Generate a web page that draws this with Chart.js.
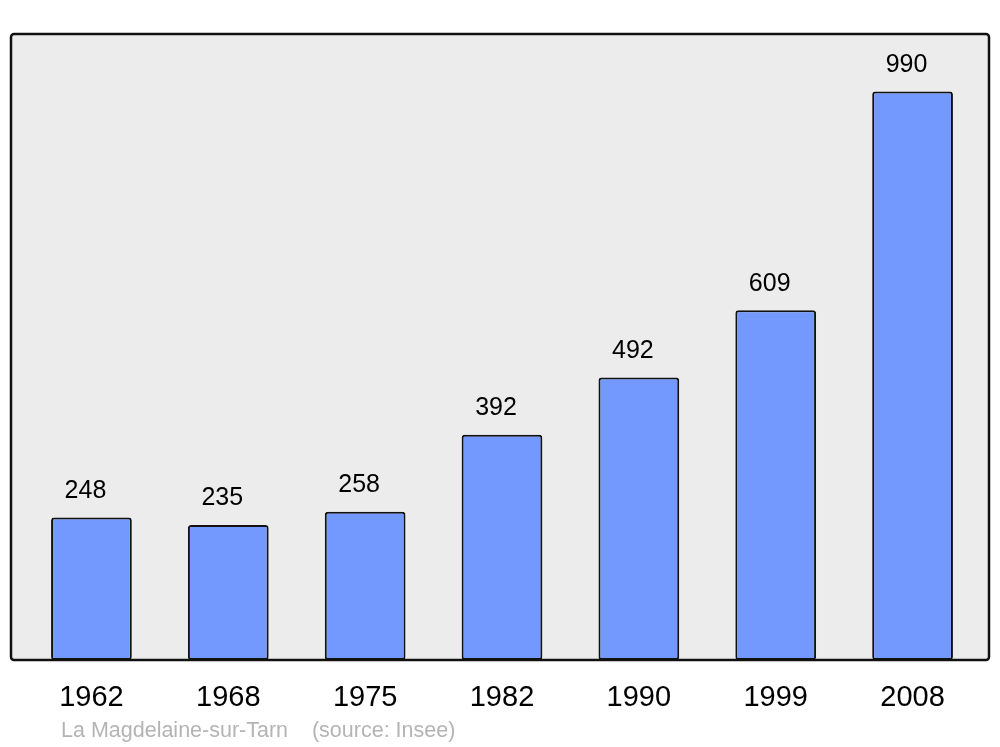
<!DOCTYPE html>
<html>
<head>
<meta charset="utf-8">
<script src="https://cdn.jsdelivr.net/npm/chart.js@4/dist/chart.umd.min.js"></script>
<style>
  html, body { margin: 0; padding: 0; background: #ffffff; }
  #wrap { position: relative; width: 1000px; height: 747px; }
  #src { position: absolute; left: 61px; top: 718px; font-family: "Liberation Sans", Arial, sans-serif; font-size: 21.5px; color: #b4b4b4; white-space: pre; }
</style>
</head>
<body>
<div id="wrap">
  <canvas id="c" width="1000" height="747"></canvas>
  <div id="src">La Magdelaine-sur-Tarn    (source: Insee)</div>
</div>
<script>
const years = ["1962", "1968", "1975", "1982", "1990", "1999", "2008"];
const population = [248, 235, 258, 392, 492, 609, 990];
const yMax = 1090;

const framePlugin = {
  id: 'frame',
  beforeDraw(chart) {
    const { ctx, chartArea } = chart;
    const l = chartArea.left - 12, r = chartArea.right + 8;
    const t = chartArea.top, b = chartArea.bottom;
    ctx.save();
    ctx.beginPath();
    ctx.roundRect(l, t, r - l, b - t, 3);
    ctx.fillStyle = '#ececec';
    ctx.fill();
    ctx.restore();
  },
  afterDatasetsDraw(chart) {
    const { ctx, chartArea } = chart;
    const l = chartArea.left - 12, r = chartArea.right + 8;
    const t = chartArea.top, b = chartArea.bottom;
    ctx.save();
    ctx.beginPath();
    ctx.roundRect(l, t, r - l, b - t, 3);
    ctx.lineWidth = 2.5;
    ctx.strokeStyle = '#111111';
    ctx.stroke();
    ctx.restore();
  }
};

const labelPlugin = {
  id: 'valueLabels',
  afterDatasetsDraw(chart) {
    const { ctx } = chart;
    const meta = chart.getDatasetMeta(0);
    ctx.save();
    ctx.font = '25px "Liberation Sans", Arial, sans-serif';
    ctx.fillStyle = '#000000';
    ctx.textAlign = 'center';
    ctx.textBaseline = 'middle';
    meta.data.forEach((bar, i) => {
      ctx.fillText(String(population[i]), bar.x - 6, bar.y - 26.5);
    });
    ctx.restore();
  }
};

new Chart(document.getElementById('c'), {
  type: 'bar',
  data: {
    labels: years,
    datasets: [{
      data: population,
      backgroundColor: '#7399ff',
      borderColor: '#111111',
      borderWidth: 2,
      borderRadius: 3,
      borderSkipped: false,
      barPercentage: 0.59,
      categoryPercentage: 1.0
    }]
  },
  options: {
    responsive: false,
    animation: false,
    devicePixelRatio: 1,
    layout: { padding: { left: 23, right: 19, top: 34, bottom: 0 } },
    plugins: { legend: { display: false }, tooltip: { enabled: false } },
    scales: {
      y: { display: false, min: 0, max: yMax },
      x: {
        grid: { display: false, drawTicks: false },
        border: { display: false },
        ticks: {
          color: '#000000',
          padding: 21,
          font: { family: '"Liberation Sans", Arial, sans-serif', size: 29 }
        },
        afterFit(scale) { scale.height = 87; }
      }
    }
  },
  plugins: [framePlugin, labelPlugin]
});
</script>
</body>
</html>
